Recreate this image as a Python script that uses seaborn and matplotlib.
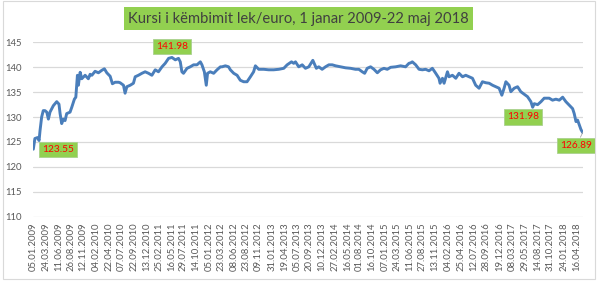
import matplotlib
matplotlib.use("Agg")
import matplotlib.pyplot as plt
import pandas as pd
import seaborn as sns
from matplotlib.patches import Rectangle

# ---------------- data ----------------
dates = [
    "2009-01-05", "2009-01-15", "2009-02-01", "2009-02-10", "2009-02-16", "2009-02-26",
    "2009-03-08", "2009-03-19", "2009-03-30", "2009-04-09", "2009-04-19", "2009-05-10",
    "2009-05-31", "2009-06-14", "2009-06-21", "2009-07-01", "2009-07-11", "2009-07-22",
    "2009-08-01", "2009-08-22", "2009-09-02", "2009-09-18", "2009-09-27", "2009-10-07",
    "2009-10-13", "2009-10-24", "2009-11-03", "2009-11-24", "2009-12-14", "2009-12-25",
    "2010-01-05", "2010-01-25", "2010-02-15", "2010-03-08", "2010-03-24", "2010-04-08",
    "2010-04-29", "2010-05-13", "2010-05-30", "2010-06-20", "2010-06-30", "2010-07-21",
    "2010-07-31", "2010-08-11", "2010-09-01", "2010-09-21", "2010-10-02", "2010-10-22",
    "2010-11-13", "2010-12-03", "2010-12-24", "2011-01-14", "2011-02-04", "2011-02-24",
    "2011-03-18", "2011-04-07", "2011-04-28", "2011-05-19", "2011-06-09", "2011-06-29",
    "2011-07-10", "2011-07-20", "2011-07-30", "2011-08-21", "2011-09-10", "2011-10-01",
    "2011-10-22", "2011-11-12", "2011-11-22", "2011-12-07", "2011-12-19", "2011-12-27",
    "2012-01-13", "2012-02-03", "2012-02-24", "2012-03-16", "2012-03-26", "2012-04-16",
    "2012-05-06", "2012-05-17", "2012-06-07", "2012-06-28", "2012-07-18", "2012-08-08",
    "2012-08-29", "2012-09-19", "2012-10-09", "2012-10-20", "2012-11-10", "2012-12-11",
    "2013-01-11", "2013-02-11", "2013-03-15", "2013-04-15", "2013-05-06", "2013-06-02",
    "2013-06-16", "2013-06-27", "2013-07-17", "2013-08-08", "2013-08-28", "2013-09-18",
    "2013-10-13", "2013-11-04", "2013-11-19", "2013-12-10", "2013-12-31", "2014-01-21",
    "2014-02-11", "2014-03-04", "2014-04-04", "2014-05-05", "2014-06-05", "2014-07-06",
    "2014-07-27", "2014-08-17", "2014-09-01", "2014-09-17", "2014-10-08", "2014-10-29",
    "2014-11-19", "2014-12-09", "2014-12-30", "2015-01-20", "2015-02-10", "2015-03-13",
    "2015-04-13", "2015-05-14", "2015-06-04", "2015-06-15", "2015-06-25", "2015-07-16",
    "2015-08-06", "2015-08-27", "2015-09-16", "2015-10-07", "2015-10-28", "2015-11-18",
    "2015-12-08", "2015-12-15", "2015-12-30", "2016-01-09", "2016-01-30", "2016-02-09",
    "2016-03-01", "2016-03-22", "2016-04-11", "2016-05-03", "2016-05-23", "2016-06-13",
    "2016-07-04", "2016-07-24", "2016-08-14", "2016-09-04", "2016-09-25", "2016-10-16",
    "2016-11-06", "2016-11-27", "2016-12-17", "2017-01-03", "2017-01-17", "2017-01-28",
    "2017-02-17", "2017-02-28", "2017-03-21", "2017-04-11", "2017-05-01", "2017-05-22",
    "2017-06-12", "2017-07-03", "2017-07-14", "2017-07-24", "2017-08-14", "2017-09-04",
    "2017-09-24", "2017-10-25", "2017-11-15", "2017-12-06", "2017-12-27", "2018-01-17",
    "2018-02-06", "2018-02-27", "2018-03-20", "2018-03-30", "2018-04-10", "2018-04-20",
    "2018-05-01", "2018-05-11", "2018-05-22",
]
rates = [
    123.55, 125.7, 125.9, 125.3, 127.3, 130.0,
    131.3, 131.3, 131.0, 129.6, 131.0, 132.3,
    133.1, 132.6, 130.7, 128.7, 129.6, 129.3,
    130.7, 131.0, 132.0, 133.6, 134.0, 138.4,
    136.4, 139.0, 137.7, 138.4, 137.7, 138.6,
    138.4, 139.2, 138.9, 139.4, 139.7, 138.9,
    138.2, 136.7, 137.0, 137.0, 136.9, 136.4,
    134.8, 136.1, 136.4, 136.8, 138.1, 138.4,
    138.8, 139.1, 138.8, 138.4, 139.5, 139.1,
    140.1, 140.8, 141.8, 141.98, 141.5, 141.8,
    141.1, 139.1, 138.8, 139.8, 140.1, 140.5,
    140.5, 141.1, 140.5, 139.1, 136.4, 138.8,
    139.1, 138.8, 139.5, 140.1, 140.1, 140.3,
    140.1, 139.5, 138.8, 138.4, 137.4, 137.1,
    137.1, 138.1, 139.1, 140.3, 139.6, 139.6,
    139.5, 139.5, 139.6, 139.8, 140.5, 141.1,
    140.8, 141.1, 140.1, 140.5, 139.8, 140.1,
    141.4, 139.8, 140.1, 139.6, 140.1, 140.5,
    140.5, 140.3, 140.1, 139.9, 139.8, 139.6,
    139.6, 139.1, 138.8, 139.8, 140.1, 139.6,
    138.9, 139.5, 139.8, 139.6, 140.0, 140.1,
    140.3, 140.1, 140.8, 140.9, 141.1, 140.5,
    139.6, 139.5, 139.6, 139.3, 139.8, 138.8,
    137.8, 136.8, 137.8, 136.8, 139.1, 138.1,
    138.4, 137.8, 138.8, 138.1, 138.4, 138.1,
    137.8, 136.4, 135.8, 137.1, 136.9, 136.8,
    136.4, 136.1, 135.8, 134.4, 135.8, 137.1,
    136.4, 135.1, 135.8, 136.1, 135.1, 134.6,
    134.1, 133.1, 131.98, 132.7, 132.5, 133.1,
    133.8, 133.8, 133.4, 133.6, 133.4, 134.0,
    133.1, 132.4, 131.7, 130.7, 129.1, 129.4,
    128.4, 127.5, 126.89,
]
tick_labels = [
    "05.01.2009", "24.03.2009", "11.06.2009", "26.08.2009", "12.11.2009",
    "04.02.2010", "22.04.2010", "07.07.2010", "22.09.2010", "13.12.2010",
    "25.02.2011", "16.05.2011", "29.07.2011", "14.10.2011", "05.01.2012",
    "23.03.2012", "08.06.2012", "23.08.2012", "09.11.2012", "31.01.2013",
    "19.04.2013", "05.07.2013", "20.09.2013", "10.12.2013", "27.02.2014",
    "16.05.2014", "01.08.2014", "16.10.2014", "07.01.2015", "24.03.2015",
    "11.06.2015", "27.08.2015", "13.11.2015", "04.02.2016", "25.04.2016",
    "12.07.2016", "28.09.2016", "19.12.2016", "08.03.2017", "29.05.2017",
    "14.08.2017", "31.10.2017", "24.01.2018", "16.04.2018",
]
y_ticks = [110, 115, 120, 125, 130, 135, 140, 145]
title = "Kursi i këmbimit lek/euro, 1 janar 2009-22 maj 2018"
callout_dates = ["2009-01-05", "2011-05-19", "2017-07-14", "2018-05-22"]
callout_values = [123.55, 141.98, 131.98, 126.89]

# ---------------- plot ----------------
sns.set_theme(style="white")
plt.rcParams["font.family"] = ["Lato", "DejaVu Sans"]

df = pd.DataFrame({"date": pd.to_datetime(dates), "rate": rates})

fig = plt.figure(figsize=(6, 2.82), dpi=100)
ax = fig.add_axes([0.0555, 0.2316, 0.9157, 0.618])

sns.lineplot(data=df, x="date", y="rate", ax=ax, color="#4A7EBB", lw=2.1)

ax.set_xlim(pd.Timestamp("2009-01-05"), pd.Timestamp("2018-05-22"))
ax.set_ylim(y_ticks[0], y_ticks[-1])
ax.set_yticks(y_ticks)
ax.set_yticklabels([str(v) for v in y_ticks])
ax.set_xticks(pd.to_datetime(tick_labels, format="%d.%m.%Y"))
ax.set_xticklabels(tick_labels, rotation=90)
ax.set_xlabel("")
ax.set_ylabel("")

ax.grid(axis="y", color="#d9d9d9", lw=0.9)
ax.grid(axis="x", visible=False)
for s in ax.spines.values():
    s.set_visible(False)
ax.tick_params(axis="y", length=0, pad=8, labelsize=6.8, labelcolor="#595959")
ax.tick_params(axis="x", length=0, pad=4, labelsize=6.8, labelcolor="#595959")

# callouts
offsets = [(18, 0), (0, 8), (-7, -7), (-4.5, -9)]
for d, v, (dx, dy) in zip(callout_dates, callout_values, offsets):
    arrow = None
    if d == callout_dates[-1]:
        arrow = dict(arrowstyle="-", color="#a6a6a6", lw=0.6, shrinkA=0, shrinkB=0)
    ax.annotate(f"{v:.2f}", xy=(pd.Timestamp(d), v), xytext=(dx, dy),
                textcoords="offset points", ha="center", va="center",
                fontsize=7.3, color="#FF0000", annotation_clip=False,
                arrowprops=arrow,
                bbox=dict(boxstyle="square,pad=0.3", fc="#92D050", ec="#a9d18e", lw=0.6))

# title
fig.text(0.4975, 0.933, title, ha="center", va="center", fontsize=10.6,
         color="#404040",
         bbox=dict(boxstyle="square,pad=0.3", fc="#92D050", ec="#92D050", lw=0))

# chart-area border
fig.patches.append(Rectangle((0.005, 0.012), 0.987, 0.985, transform=fig.transFigure,
                             fill=False, ec="#d9d9d9", lw=0.8))

fig.savefig("out.png", dpi=100)
